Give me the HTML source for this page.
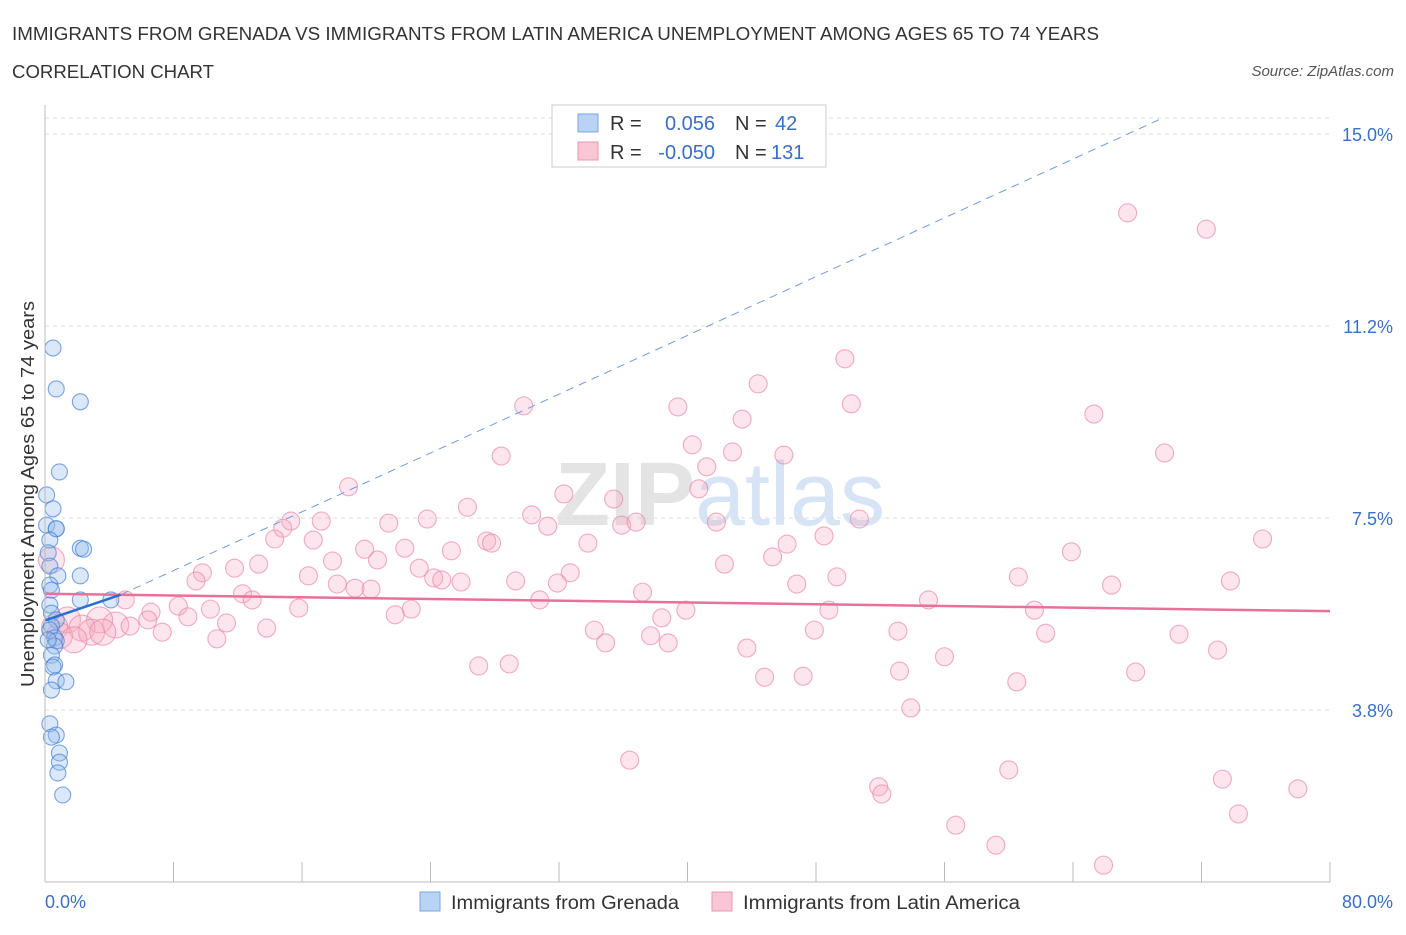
<!DOCTYPE html>
<html><head><meta charset="utf-8"><style>
body{margin:0;background:#fff;font-family:"Liberation Sans",sans-serif;}
svg text{font-family:"Liberation Sans",sans-serif;}
</style></head><body>
<svg id="chart" width="1406" height="930" xmlns="http://www.w3.org/2000/svg">
<text x="12" y="40" font-size="18" fill="#333" textLength="1087" lengthAdjust="spacingAndGlyphs">IMMIGRANTS FROM GRENADA VS IMMIGRANTS FROM LATIN AMERICA UNEMPLOYMENT AMONG AGES 65 TO 74 YEARS</text>
<text x="12" y="78" font-size="18" fill="#333" textLength="202" lengthAdjust="spacingAndGlyphs">CORRELATION CHART</text>
<text x="1394" y="76" font-size="15" fill="#555" text-anchor="end" font-style="italic">Source: ZipAtlas.com</text>
<text x="720" y="525" font-size="90" fill="#e4e4e4" text-anchor="middle" font-weight="bold">ZIP<tspan fill="#d6e4f5" font-weight="normal">atlas</tspan></text>
<g id="grid"></g>
<g id="marks"></g>
<line x1="45" y1="105" x2="45" y2="882" stroke="#bbb"/>
<line x1="45" y1="882" x2="1330" y2="882" stroke="#bbb"/>
<text transform="translate(34,494) rotate(-90)" font-size="18" fill="#333" text-anchor="middle" textLength="386" lengthAdjust="spacingAndGlyphs">Unemployment Among Ages 65 to 74 years</text>
<text x="45" y="908" font-size="18" fill="#3a6fc4">0.0%</text>
<text x="1393" y="908" font-size="18" fill="#3a6fc4" text-anchor="end">80.0%</text>
<g>
<rect x="552" y="105" width="274" height="62" fill="#fff" stroke="#ccc"/>
<rect x="578" y="114" width="20" height="18" fill="#b9d3f5" stroke="#7aa6e0"/>
<rect x="578" y="142" width="20" height="18" fill="#f9c6d5" stroke="#eb95b0"/>
<text x="610" y="130" font-size="20" fill="#333">R =</text>
<text x="715" y="130" font-size="20" fill="#3a6fc4" text-anchor="end">0.056</text>
<text x="735" y="130" font-size="20" fill="#333">N =</text>
<text x="775" y="130" font-size="20" fill="#3a6fc4">42</text>
<text x="610" y="159" font-size="20" fill="#333">R =</text>
<text x="715" y="159" font-size="20" fill="#3a6fc4" text-anchor="end">-0.050</text>
<text x="735" y="159" font-size="20" fill="#333">N =</text>
<text x="771" y="159" font-size="20" fill="#3a6fc4">131</text>
</g>
<g><rect x="420" y="892" width="20" height="19" fill="#b9d3f5" stroke="#7aa6e0"/><text x="451" y="909" font-size="19" fill="#333" textLength="228" lengthAdjust="spacingAndGlyphs">Immigrants from Grenada</text></g>
<g><rect x="712" y="892" width="20" height="19" fill="#f9c6d5" stroke="#eb95b0"/><text x="743" y="909" font-size="19" fill="#333" textLength="277" lengthAdjust="spacingAndGlyphs">Immigrants from Latin America</text></g>
</svg>
<script>
const yTicks=[3.75,7.5,11.25,15];
const yTickLabels=["3.8%","7.5%","11.2%","15.0%"];
const xTicks=[0,8,16,24,32,40,48,56,64,72,80];
const blueX=[0.5,0.7,2.2,0.9,0.1,0.5,0.1,0.7,0.7,0.3,2.2,2.4,0.2,0.3,2.2,0.8,0.3,0.4,2.2,4.1,0.3,0.4,0.7,0.4,0.3,0.6,0.7,0.6,0.4,0.6,0.5,0.7,1.3,0.4,0.3,0.7,0.4,0.9,0.9,0.8,1.1,0.2];
const blueY=[10.82,10.02,9.77,8.40,7.95,7.68,7.36,7.29,7.29,7.07,6.91,6.89,6.82,6.56,6.37,6.37,6.19,6.09,5.90,5.90,5.80,5.64,5.51,5.39,5.31,5.16,5.10,5.00,4.82,4.63,4.59,4.32,4.30,4.14,3.48,3.26,3.22,2.91,2.73,2.52,2.09,5.12];
const pinkX=[67.4,72.3,49.8,44.4,50.2,39.4,29.8,43.4,65.3,40.3,42.8,46.0,28.4,69.7,41.2,40.7,18.9,32.3,35.4,26.3,30.3,31.3,35.9,36.8,41.8,50.7,23.8,21.4,17.2,15.3,14.8,14.3,16.7,19.9,22.4,25.3,27.5,27.8,33.8,46.2,48.5,75.8,63.9,45.3,17.9,20.7,23.3,32.7,42.3,13.3,11.8,9.8,16.4,24.2,24.7,25.9,29.3,31.9,46.8,49.3,60.6,66.4,73.8,9.4,18.2,19.3,20.3,12.3,12.9,37.2,5.0,30.8,55.0,8.3,10.3,15.8,22.8,21.8,39.9,38.4,48.8,61.6,6.6,6.4,8.9,11.3,4.4,3.4,1.4,2.3,2.9,3.6,5.3,7.3,13.8,0.6,0.9,1.8,34.2,37.7,47.9,53.1,62.3,70.6,10.7,34.9,38.8,43.7,56.0,73.0,27.0,28.9,53.2,44.8,47.2,67.9,60.5,53.9,36.4,60.0,73.3,51.9,52.1,78.0,74.3,56.7,59.2,65.9,0.4];
const pinkY=[13.46,13.14,10.61,10.12,9.73,9.67,9.69,9.43,9.53,8.93,8.79,8.73,8.71,8.77,8.50,8.07,8.11,7.97,7.87,7.71,7.56,7.34,7.36,7.42,7.42,7.48,7.48,7.40,7.44,7.44,7.30,7.09,7.07,6.89,6.91,6.86,7.05,7.01,7.01,6.99,7.15,7.09,6.84,6.74,6.66,6.68,6.52,6.43,6.60,6.60,6.52,6.43,6.37,6.33,6.29,6.25,6.27,6.23,6.21,6.35,6.35,6.19,6.27,6.27,6.21,6.13,6.11,6.02,5.90,6.05,5.90,5.90,5.90,5.78,5.72,5.74,5.72,5.61,5.70,5.55,5.70,5.70,5.66,5.51,5.57,5.45,5.41,5.51,5.51,5.35,5.27,5.27,5.39,5.27,5.35,5.37,5.20,5.12,5.31,5.20,5.31,5.29,5.25,5.23,5.14,5.06,5.06,4.96,4.79,4.92,4.61,4.65,4.51,4.39,4.41,4.49,4.30,3.79,2.77,2.58,2.40,2.25,2.11,2.21,1.72,1.50,1.11,0.72,6.68];
const blueTrend=[[0,5.5],[4.7,6.0]];
const blueDashed=[[4.7,6.0],[69.5,15.3]];
const pinkTrend=[[0,6.02],[80,5.68]];
const NS='http://www.w3.org/2000/svg';
const xs=v=>45+v/80*1285;
const ys=v=>902-v*51.2;
function mk(tag,attrs,parent){const e=document.createElementNS(NS,tag);for(const k in attrs)e.setAttribute(k,attrs[k]);parent.appendChild(e);return e;}
const grid=document.getElementById('grid'),marks=document.getElementById('marks'),svg=document.getElementById('chart');
yTicks.forEach((t,i)=>{
 const l=mk('line',{x1:45,x2:1330,y1:ys(t),y2:ys(t),stroke:'#ddd','stroke-dasharray':'4,4'},grid);
 
 
 const tx=mk('text',{x:1393,y:ys(t)+7,'font-size':18,fill:'#3a6fc4','text-anchor':'end'},svg);
 tx.textContent=yTickLabels[i];
 
 
});
const tl=mk('line',{x1:45,x2:1330,y1:118,y2:118,stroke:'#ddd','stroke-dasharray':'4,4'},grid);


xTicks.forEach(t=>{
 const l=mk('line',{x1:xs(t),x2:xs(t),y1:862,y2:882,stroke:'#bbb'},grid);
 
 
});
pinkX.forEach((x,i)=>{
 const c=mk('circle',{cx:xs(x),cy:ys(pinkY[i]),r:x<5?13:9,fill:'rgba(244,170,192,0.3)',stroke:'rgba(232,130,163,0.65)','stroke-width':1.1},marks);
 
 
});
blueX.forEach((x,i)=>{
 const c=mk('circle',{cx:xs(x),cy:ys(blueY[i]),r:8,fill:'rgba(150,188,238,0.35)',stroke:'rgba(70,128,212,0.7)','stroke-width':1.1},marks);
 
 
});
const d=mk('line',{x1:xs(blueDashed[0][0]),y1:ys(blueDashed[0][1]),x2:xs(blueDashed[1][0]),y2:ys(blueDashed[1][1]),stroke:'#6f9be0','stroke-width':1,'stroke-dasharray':'8,6'},marks);


const p=mk('line',{x1:xs(pinkTrend[0][0]),y1:ys(pinkTrend[0][1]),x2:xs(pinkTrend[1][0]),y2:ys(pinkTrend[1][1]),stroke:'#e8709a','stroke-width':2.5},marks);


const b=mk('line',{x1:xs(blueTrend[0][0]),y1:ys(blueTrend[0][1]),x2:xs(blueTrend[1][0]),y2:ys(blueTrend[1][1]),stroke:'#2a6fd0','stroke-width':2.5},marks);


</script>
</body></html>
